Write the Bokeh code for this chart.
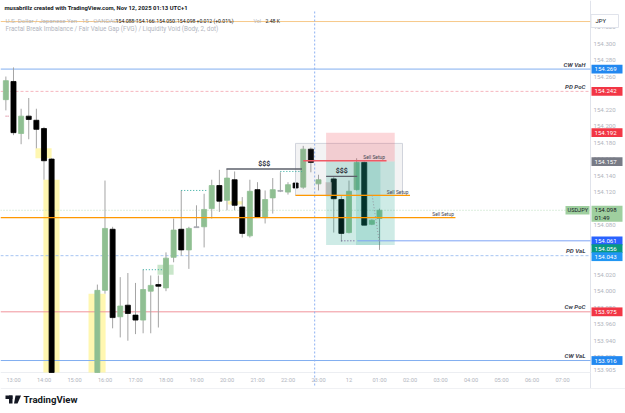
from bokeh.plotting import figure
from bokeh.models import Range1d, ColumnDataSource
from bokeh.core.properties import value
from bokeh.embed import file_html
from bokeh.resources import INLINE

FONT = "Roboto"

# ---------------- data (15-min USD/JPY candles, hours from 00:00 Nov 11, UTC+1) ----------------
times = [12.75, 13.0, 13.25, 13.5, 13.75, 14.0, 14.25, 15.75, 16.0, 16.25, 16.5, 16.75, 17.0,
         17.25, 17.5, 17.75, 18.0, 18.25, 18.5, 18.75, 19.0, 19.25, 19.5, 19.75, 20.0, 20.25,
         20.5, 20.75, 21.0, 21.25, 21.5, 21.75, 22.0, 22.25, 22.5, 22.75, 23.0, 23.5, 23.75,
         24.0, 24.25, 24.5, 24.75, 25.0]
opens = [154.232, 154.254, 154.191, 154.212, 154.207, 154.197, 154.160, 153.880, 154.001, 154.075,
         153.969, 153.983, 153.971, 153.965, 154.000, 154.008, 154.004, 154.041, 154.075, 154.050,
         154.078, 154.078, 154.100, 154.128, 154.110, 154.135, 154.102, 154.067, 154.123, 154.089,
         154.113, 154.122, 154.120, 154.131, 154.126, 154.172, 154.130, 154.136, 154.111, 154.071,
         154.123, 154.156, 154.081, 154.088]
highs = [154.260, 154.271, 154.221, 154.234, 154.221, 154.199, 154.161, 154.008, 154.134, 154.078,
         154.017, 154.022, 154.010, 154.026, 154.019, 154.019, 154.047, 154.088, 154.122, 154.078,
         154.104, 154.118, 154.135, 154.147, 154.148, 154.145, 154.114, 154.135, 154.132, 154.122,
         154.137, 154.144, 154.132, 154.132, 154.176, 154.174, 154.141, 154.138, 154.115, 154.134,
         154.161, 154.157, 154.087, 154.100]
lows = [154.219, 154.189, 154.178, 154.184, 154.173, 154.135, 153.860, 153.875, 153.997, 153.955,
        153.944, 153.940, 153.948, 153.949, 153.949, 153.956, 154.000, 154.035, 154.043, 154.027,
        154.077, 154.053, 154.088, 154.096, 154.098, 154.098, 154.065, 154.065, 154.089, 154.082,
        154.094, 154.120, 154.117, 154.124, 154.124, 154.144, 154.122, 154.071, 154.060, 154.070,
        154.122, 154.080, 154.080, 154.050]
closes = [154.255, 154.192, 154.212, 154.208, 154.196, 154.158, 153.870, 154.001, 154.076, 153.968,
          153.982, 153.973, 153.965, 154.002, 154.007, 154.006, 154.040, 154.074, 154.050, 154.076,
          154.077, 154.099, 154.128, 154.109, 154.137, 154.104, 154.070, 154.121, 154.090, 154.111,
          154.123, 154.121, 154.129, 154.125, 154.172, 154.156, 154.135, 154.112, 154.070, 154.121,
          154.156, 154.080, 154.086, 154.098]

time_ticks = [13, 14, 15, 16, 17, 18, 19, 20, 21, 22, 23, 24, 25, 26, 27, 28, 29, 30, 31]
time_tick_labels = ["13:00", "14:00", "15:00", "16:00", "17:00", "18:00", "19:00", "20:00", "21:00",
                    "22:00", "23:00", "12", "01:00", "02:00", "03:00", "04:00", "05:00", "06:00", "07:00"]
price_ticks = [153.905, 153.92, 153.94, 153.96, 153.98, 154.00, 154.02, 154.04, 154.06, 154.08, 154.10,
               154.12, 154.14, 154.16, 154.18, 154.20, 154.22, 154.24, 154.26, 154.28, 154.30, 154.32]

# key levels
level_names = ["CW VaH", "PD PoC", "PD VaL", "Cw PoC", "CW VaL"]
level_prices = [154.269, 154.242, 154.043, 153.975, 153.916]
top_level = 154.3266
last_price = 154.098
session_break = 22.875

# FVG boxes
fvg_left = [13.72, 13.98, 15.46, 20.03]
fvg_right = [14.25, 14.51, 16.02, 20.52]
fvg_top = [154.173, 154.135, 153.997, 154.109]
fvg_bottom = [154.161, 153.850, 153.850, 154.105]
bull_fvg = [17.72, 18.25, 154.032, 154.020]
void_box = [23.23, 23.43, 154.132, 154.115]

# short position tool
pos_start, pos_end = 23.25, 25.50
pos_stop, pos_entry, pos_target = 154.192, 154.157, 154.056
pos2_start, pos2_end = 24.23, 25.03
range_box = [22.246, 25.754, 154.179, 154.116]

# sell setups
sell_prices = [154.158, 154.116, 154.089]
sell_start = [22.50, 22.246, 12.574]
sell_end = [25.23, 26.00, 27.49]
# liquidity ($$$)
liq_prices = [154.148, 154.139]
liq_start = [19.98, 23.25]
liq_end = [22.46, 24.27]
# dotted liquidity lines
dot_prices = [154.122, 154.026, 154.145]
dot_start = [18.50, 17.24, 21.75]
dot_end = [19.36, 17.92, 22.46]
void_line = [23.75, 24.24, 154.061]
blue_line = [24.27, 154.061]
void_diag = [24.76, 154.116, 25.00, 154.058]

# right axis tags
tag_prices = [154.269, 154.242, 154.192, 154.157, 154.061, 154.056, 154.043, 153.975, 153.916]

# ---------------- geometry ----------------
W, H = 625, 413
PXH = 30.5            # px per hour
PPU = 825.6           # px per price unit
X0 = 12.574           # time at left canvas edge
YT = 154.300 + 43 / PPU   # price at top canvas edge


def tx(px):
    return X0 + px / PXH


def py(pix):
    return YT - pix / PPU


PANE_R = tx(590)
PANE_B = py(372)
PANE_T = py(13)

p = figure(width=W, height=H, x_range=Range1d(X0, tx(W)), y_range=Range1d(py(H), YT),
           x_axis_location=None, y_axis_location=None, toolbar_location=None,
           output_backend="svg", title=None, min_border_left=0, min_border_right=0,
           min_border_top=0, min_border_bottom=0, outline_line_color=None,
           background_fill_color="white", border_fill_color="white")
p.grid.visible = False


def txt(xs, ys, texts, size, color, align="left", baseline="middle", style="normal"):
    p.text(x=xs, y=ys, text=texts, text_font=value(FONT), text_font_size=value(size),
           text_color=color, text_align=align, text_baseline=baseline, text_font_style=style)


# pane borders
p.segment(x0=[PANE_R], y0=[py(0)], x1=[PANE_R], y1=[py(388)], line_color="#e0e3eb", line_width=1)
p.segment(x0=[X0], y0=[PANE_B], x1=[PANE_R], y1=[PANE_B], line_color="#eceef2", line_width=1)
p.segment(x0=[X0], y0=[py(388)], x1=[tx(W)], y1=[py(388)], line_color="#f0f1f4", line_width=1)

# FVG zones (under candles)
p.quad(left=fvg_left, right=fvg_right, top=fvg_top, bottom=[max(b, PANE_B) for b in fvg_bottom],
       fill_color="#fff59d", fill_alpha=0.8, line_color=None)
p.quad(left=[bull_fvg[0]], right=[bull_fvg[1]], top=[bull_fvg[2]], bottom=[bull_fvg[3]],
       fill_color="#a5d6a7", fill_alpha=0.6, line_color=None)

# level lines
p.segment(x0=[X0], y0=[top_level], x1=[PANE_R], y1=[top_level], line_color="#f7c98a", line_width=1)
level_styles = [("#82aef0", "solid"), ("#f6b7bf", "3 2"), ("#a6c4f2", "3 2"),
                ("#f0939b", "solid"), ("#82aef0", "solid")]
for lp, (lc, ld) in zip(level_prices, level_styles):
    p.segment(x0=[X0], y0=[lp], x1=[PANE_R], y1=[lp], line_color=lc, line_width=1, line_dash=ld)
p.segment(x0=[X0], y0=[last_price], x1=[PANE_R], y1=[last_price], line_color="#b9dcbc",
          line_width=1, line_dash="1 2")
p.segment(x0=[session_break], y0=[PANE_T + 2 / PPU], x1=[session_break], y1=[py(386)],
          line_color="#8eb1f2", line_width=1, line_dash="2 2")

# candles (clipped to the pane)
up_c, dn_c, doji_c = "#8fbf92", "#000000", "#a3a6ad"
cols = []
for o, c in zip(opens, closes):
    if abs(c - o) <= 0.0012:
        cols.append(doji_c)
    elif c > o:
        cols.append(up_c)
    else:
        cols.append(dn_c)
tops = [max(o, c) for o, c in zip(opens, closes)]
bots = [max(min(o, c), PANE_B) for o, c in zip(opens, closes)]
src = ColumnDataSource(dict(t=times, hi=highs, lo=[max(l, PANE_B) for l in lows],
                            top=tops, bot=bots, col=cols))
p.segment(x0="t", y0="lo", x1="t", y1="hi", source=src, line_color="#a4a4a4", line_width=1)
p.vbar(x="t", width=0.165, top="top", bottom="bot", fill_color="col", line_color="col",
       line_width=0.8, source=src)

# void box
p.quad(left=[void_box[0]], right=[void_box[1]], top=[void_box[2]], bottom=[void_box[3]],
       fill_color="#e6c8cb", fill_alpha=0.9, line_color=None)

# range box + position tool (over candles)
p.quad(left=[range_box[0]], right=[range_box[1]], top=[range_box[2]], bottom=[range_box[3]],
       fill_color="#787b86", fill_alpha=0.09, line_color="#d1d4dc", line_width=1)
p.quad(left=[pos_start], right=[pos_end], top=[pos_stop], bottom=[pos_entry],
       fill_color="#f23645", fill_alpha=0.2, line_color=None)
p.quad(left=[pos_start], right=[pos_end], top=[pos_entry], bottom=[pos_target],
       fill_color="#089981", fill_alpha=0.2, line_color=None)
p.quad(left=[pos2_start], right=[pos2_end], top=[pos_entry], bottom=[pos_target],
       fill_color="#089981", fill_alpha=0.17, line_color=None)

# sell setup lines
p.segment(x0=[sell_start[0]], y0=[sell_prices[0]], x1=[sell_end[0]], y1=[sell_prices[0]],
          line_color="#ef5a66", line_width=1.3)
p.segment(x0=sell_start[1:], y0=sell_prices[1:], x1=sell_end[1:], y1=sell_prices[1:],
          line_color="#ff9800", line_width=1.3)
txt([e - 0.05 for e in sell_end], [s + 0.0005 for s in sell_prices], ["Sell Setup"] * 3,
    "4.9px", "#434651", align="right", baseline="bottom")

# $$$ lines
p.segment(x0=liq_start, y0=liq_prices, x1=liq_end, y1=liq_prices, line_color="#5d606b", line_width=1.3)
txt([(a + b) / 2 for a, b in zip(liq_start, liq_end)], [lp + 0.0012 for lp in liq_prices],
    ["$$$"] * 2, "7px", "#2a2e39", align="center", baseline="bottom", style="bold")

# dotted liquidity lines
p.segment(x0=dot_start, y0=dot_prices, x1=dot_end, y1=dot_prices, line_color="#26a69a",
          line_width=1, line_dash="1 2")
p.segment(x0=[void_line[0]], y0=[void_line[2]], x1=[void_line[1]], y1=[void_line[2]],
          line_color="#6a4c8c", line_width=1, line_dash="1 2")
p.segment(x0=[blue_line[0]], y0=[blue_line[1]], x1=[PANE_R], y1=[blue_line[1]],
          line_color="#7ea4f5", line_width=1)
p.segment(x0=[void_diag[0]], y0=[void_diag[1]], x1=[void_diag[2]], y1=[void_diag[3]],
          line_color="#9598a1", line_width=1, line_dash="1 2")
p.segment(x0=[12.74], y0=[154.212], x1=[12.84], y1=[154.212], line_color="#d0607a",
          line_width=1, line_dash="1 1")

# level names
txt([tx(585)] * len(level_names), [lp + 0.0006 for lp in level_prices], level_names,
    "6.2px", "#434651", align="right", baseline="bottom", style="bold italic")

# ---------------- price axis ----------------
txt([tx(593)] * len(price_ticks), price_ticks, [f"{v:.3f}" for v in price_ticks],
    "6.1px", "#b2b5be")

# time axis
txt(time_ticks, [py(379)] * len(time_ticks), time_tick_labels, "5.7px", "#b2b5be", align="center")

# tags on the price axis
tag_bg = ["#2288f0", "#f23645", "#f23645", "#787b86", "#2962ff", "#089981", "#2196f3",
          "#f23645", "#2288f0"]
tag_dy = [0, 0, 0, 0, 0, 3.6, 1.0, 0, 0]
tag_y = [tp - dy / PPU for tp, dy in zip(tag_prices, tag_dy)]
p.quad(left=[tx(591)] * len(tag_y), right=[tx(622)] * len(tag_y),
       top=[y + 4.4 / PPU for y in tag_y], bottom=[y - 4.4 / PPU for y in tag_y],
       fill_color=tag_bg, line_color=None)
txt([tx(594)] * len(tag_y), tag_y, [f"{v:.3f}" for v in tag_prices], "6.1px", "white")

# last price tag
p.quad(left=[tx(591)], right=[tx(622)], top=[last_price + 4.6 / PPU],
       bottom=[last_price - 11.5 / PPU], fill_color="#9fcf9f", line_color=None)
txt([tx(594), tx(594)], [last_price, last_price - 7.3 / PPU], [f"{last_price:.3f}", "01:49"],
    "6.1px", "#131722")
p.quad(left=[tx(565)], right=[tx(589)], top=[last_price + 4.3 / PPU],
       bottom=[last_price - 4.3 / PPU], fill_color="#9fcf9f", line_color=None)
txt([tx(567)], [last_price], ["USDJPY"], "5.6px", "#131722")

# currency box
p.quad(left=[tx(590.5)], right=[tx(618)], top=[py(14)], bottom=[py(27)],
       fill_color="white", line_color="#e0e3eb", line_width=1)
txt([tx(595)], [py(20.5)], ["JPY"], "5.9px", "#131722")

# ---------------- header ----------------
G, D = "#b2b5be", "#131722"
txt([tx(4)], [py(7)], ["musabrillz created with TradingView.com, Nov 12, 2025 01:13 UTC+1"],
    "5.9px", D, style="bold")
txt([tx(5)], [py(20)], ["U.S. Dollar / Japanese Yen · 15 · OANDA"], "6.1px", G)
hx = [112.7, 132.7, 153.3, 173.3, 253]
ht = ["O", "H", "L", "C", "Vol"]
txt([tx(v) for v in hx], [py(20)] * len(hx), ht, "5.3px", G)
vx = [115.2, 135.4, 155.8, 176.4, 196, 265]
vt = ["154.088", "154.166", "154.050", "154.098", "+0.012 (+0.01%)", "2.48 K"]
txt([tx(v) for v in vx], [py(20)] * len(vx), vt, "5.1px", D)
txt([tx(5)], [py(28)], ["Fractal Break Imbalance / Fair Value Gap (FVG) / Liquidity Void (Body, 2, dot)"],
    "6.3px", G)

# ---------------- footer logo ----------------
p.quad(left=[tx(5)], right=[tx(12)], top=[py(395)], bottom=[py(398.5)], fill_color=D, line_color=None)
p.quad(left=[tx(8.5)], right=[tx(12)], top=[py(395)], bottom=[py(403)], fill_color=D, line_color=None)
p.patch(x=[tx(15), tx(20.5), tx(17), tx(13.5)], y=[py(395), py(395), py(403), py(403)],
        fill_color=D, line_color=None)
txt([tx(23)], [py(399)], ["TradingView"], "9.6px", D, style="bold")

open("out.html", "w").write(file_html(p, INLINE))
